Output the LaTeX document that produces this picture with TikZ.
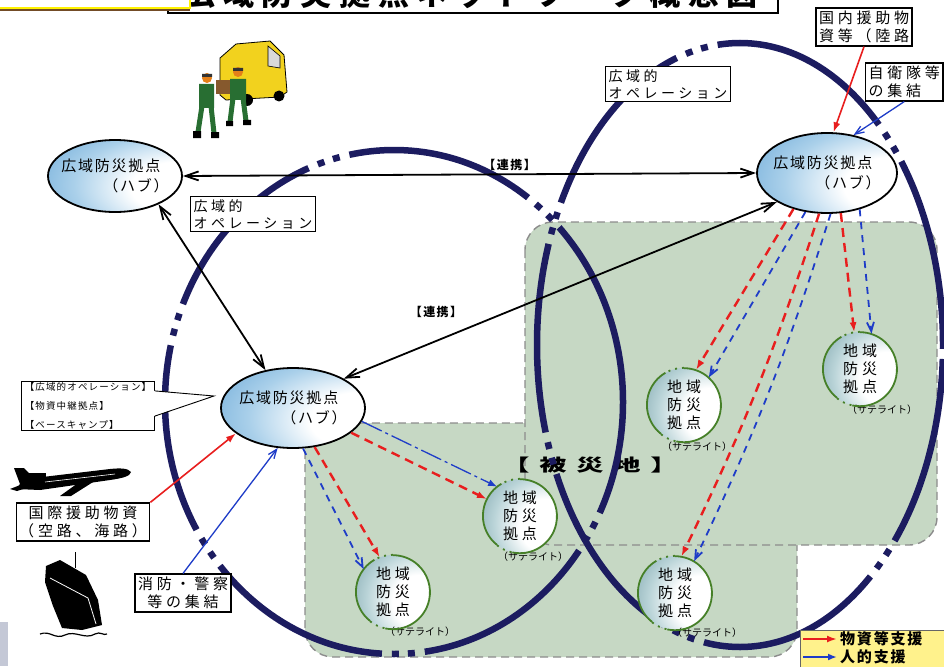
\documentclass[tikz,border=0pt]{standalone}
\usepackage{fontspec}
\newfontfamily\jp[LetterSpace=12]{Noto Sans CJK JP}
\newfontfamily\jpn{Noto Sans CJK JP}
\newfontfamily\jpwide[LetterSpace=25]{Noto Sans CJK JP}
\newfontfamily\jpbig[LetterSpace=36]{Noto Sans CJK JP}
\usetikzlibrary{arrows.meta, positioning, shapes.geometric, calc}

\definecolor{ringblue}{RGB}{28,28,96}
\definecolor{areagreen}{RGB}{198,216,196}
\definecolor{hubblue}{RGB}{80,152,208}
\definecolor{hubpale}{RGB}{170,208,234}
\definecolor{satteal}{RGB}{84,132,144}
\definecolor{satpale}{RGB}{186,212,216}
\definecolor{satring}{RGB}{70,128,40}
\definecolor{supplyred}{RGB}{232,30,30}
\definecolor{staffblue}{RGB}{30,60,200}
\definecolor{legendyellow}{RGB}{255,242,140}
\definecolor{vanyellow}{RGB}{242,210,30}
\definecolor{workgreen}{RGB}{40,110,50}
\definecolor{edgegray}{RGB}{196,200,214}

% soft fills for hubs and satellites
\pgfdeclareradialshading{hubglow}{\pgfpoint{30bp}{-10bp}}{color(0bp)=(white); color(18bp)=(white); color(34bp)=(hubpale); color(58bp)=(hubblue); color(90bp)=(hubblue)}
\pgfdeclareradialshading{satglow}{\pgfpoint{22bp}{-8bp}}{color(0bp)=(white); color(18bp)=(white); color(32bp)=(satpale); color(58bp)=(satteal); color(90bp)=(satteal)}

\begin{document}
\begin{tikzpicture}[x=1pt, y=-1pt,
    ring/.style={draw=ringblue, line width=6.5pt, dash pattern=on 190pt off 10pt on 7pt off 9pt on 7pt off 10pt},
    area/.style={fill=areagreen, draw=black!45, line width=1.4pt, dash pattern=on 8pt off 5pt, rounded corners=28pt},
    hub/.style={ellipse, draw=black, line width=1.8pt, shading=hubglow},
    hubtext/.style={font=\jp\fontsize{15}{20}\selectfont, align=left, inner sep=0pt},
    sat/.style={circle, minimum size=74pt, inner sep=0pt, shading=satglow,
        font=\jp\fontsize{15}{18}\selectfont, align=center},
    satnote/.style={font=\jpn\fontsize{10}{11}\selectfont, inner sep=0pt},
    satline/.style={draw=satring, line width=1.8pt},
    textbox/.style={draw=black, line width=1.3pt, fill=white, font=\jpwide\fontsize{14}{17}\selectfont, align=left, inner sep=3pt},
    link/.style={{Straight Barb[length=13pt,width=9pt]}-{Straight Barb[length=13pt,width=9pt]}, line width=1.8pt},
    linklabel/.style={font=\jp\bfseries\fontsize{12}{14}\selectfont, inner sep=1pt},
    supply/.style={-{Latex[length=10pt,width=7pt]}, draw=supplyred, line width=1.6pt},
    staff/.style={-{Straight Barb[length=9pt,width=7pt]}, draw=staffblue, line width=1.3pt},
    supplydash/.style={supply, line width=2.4pt, dash pattern=on 9pt off 6pt},
    staffdash/.style={staff, line width=1.8pt, dash pattern=on 7pt off 6pt}
]

\useasboundingbox (0,0) rectangle (944,666);
\clip (0,0) rectangle (944,666);
\fill[white] (0,0) rectangle (944,666);

% title strip
\draw[line width=1.6pt, fill=white] (168,-40) rectangle (778,13);
\node[font=\jpwide\bfseries\fontsize{31}{34}\selectfont] (title) at (471,-6) {広域防災拠点ネットワーク概念図};
\draw[draw=brown!60!black, line width=2pt] (0,10) -- (190,10);
\draw[draw=yellow, line width=2.2pt, fill=white] (-5,-10) rectangle (190,8);

% disaster area
\draw[area] (305,423) rectangle (797,657);
\draw[area] (525,222) rectangle (937,545);
\node[font=\jpbig\bfseries\fontsize{17}{20}\selectfont, xscale=1.6, transform shape] (area) at (590,465) {【被災地】};

% operation rings
\draw[ring] (394,402) ellipse [x radius=229pt, y radius=252pt];
\draw[ring] (740,345) ellipse [x radius=203pt, y radius=302pt];

% hubs
\node[hub, minimum width=134pt, minimum height=72pt, label={[hubtext]center:{広域防災拠点\\\hspace*{42pt}（ハブ）}}] (hubL) at (115,176) {};
\node[hub, minimum width=144pt, minimum height=80pt, label={[hubtext]center:{広域防災拠点\\\hspace*{42pt}（ハブ）}}] (hubM) at (293,408) {};
\node[hub, minimum width=140pt, minimum height=80pt, label={[hubtext]center:{広域防災拠点\\\hspace*{42pt}（ハブ）}}] (hubR) at (827,173) {};

% satellites
\node[sat, label={[satnote, xshift=27pt, yshift=-40pt]center:（サテライト）}] (satA) at (393,592) {地\hspace{4pt}域\\防\hspace{4pt}災\\拠\hspace{4pt}点};
\node[sat, label={[satnote, xshift=13pt, yshift=-41pt]center:（サテライト）}] (satB) at (520,516) {地\hspace{4pt}域\\防\hspace{4pt}災\\拠\hspace{4pt}点};
\node[sat, label={[satnote, xshift=22pt, yshift=-41pt]center:（サテライト）}] (satC) at (860,369) {地\hspace{4pt}域\\防\hspace{4pt}災\\拠\hspace{4pt}点};
\node[sat, label={[satnote, xshift=13pt, yshift=-42pt]center:（サテライト）}] (satD) at (684,405) {地\hspace{4pt}域\\防\hspace{4pt}災\\拠\hspace{4pt}点};
\node[sat, label={[satnote, xshift=32pt, yshift=-40pt]center:（サテライト）}] (satE) at (675,593) {地\hspace{4pt}域\\防\hspace{4pt}災\\拠\hspace{4pt}点};
\foreach \s in {satA,satB,satC,satD,satE}{
  \draw[satline] (\s.120) arc[start angle=120, end angle=232, radius=37pt];
  \draw[satline] (\s.258) arc[start angle=258, end angle=450, radius=37pt];
  \draw[satline, dash pattern=on 2pt off 5pt] (\s.90) arc[start angle=90, end angle=120, radius=37pt];
  \draw[satline, dash pattern=on 2pt off 5pt] (\s.232) arc[start angle=232, end angle=258, radius=37pt];
}

% boxes
\node[textbox] (opL) at (253,214) {広域的\\オペレーション};
\node[textbox] (opR) at (668,84) {広域的\\オペレーション};
\node[textbox, font=\jpwide\fontsize{15}{18}\selectfont] (domestic) at (864,27) {国内援助物\\資等（陸路};
\node[textbox, font=\jpwide\fontsize{15}{18}\selectfont, anchor=west] (sdf) at (865,82) {自衛隊等\\の集結};
\node[textbox, font=\jpwide\fontsize{15}{18}\selectfont, align=center] (intl) at (83,522) {国際援助物資\\（空路、海路）};
\node[textbox, font=\jpwide\fontsize{15}{18}\selectfont, align=center] (fire) at (183,593) {消防・警察\\等の集結};
\node[textbox, font=\jp\fontsize{9.5}{19}\selectfont, inner ysep=1pt] (callout) at (88,406) {【広域的オペレーション】\\【物資中継拠点】\\【ベースキャンプ】};
\coordinate (ctip) at (214,396);
\fill[white] ([xshift=-1pt, yshift=-10pt]callout.north east) -- (ctip) -- ([xshift=-1pt, yshift=15pt]callout.south east) -- cycle;
\draw[line width=0.9pt] ([yshift=-10pt]callout.north east) -- (ctip) -- ([yshift=15pt]callout.south east);

% cooperation between hubs
\draw[link] (hubL.east) -- (hubR.west) node[pos=0.57, above=2pt, linklabel] (coopA) {【連携】};
\draw[link] (hubM.30) -- (hubR.210);
\node[linklabel] (coopB) at (436,312) {【連携】};
\draw[link] (hubL.-33) -- (hubM.126);

% inflow to hubs
\draw[supply] (intl.north east) -- (hubM.204);
\draw[staff] (fire.north) -- (hubM.249);
\draw[supply] (domestic.south) -- (hubR.81);
\draw[staff] (sdf.south) -- (hubR.55);

% hub to satellites
\draw[staff, -{Latex[length=9pt,width=7pt]}, dash pattern=on 22pt off 4pt on 3pt off 4pt] (hubM.-11) -- (satB.128);
\draw[supplydash] (hubM.-23) -- (satB.153);
\draw[supplydash] (hubM.-61) -- (satA.111);
\draw[staffdash] (hubM.-76) -- (satA.142);
\draw[supplydash] (hubR.227) -- (satD.71);
\draw[staffdash] (hubR.241) -- (satD.48);
\draw[supplydash] (hubR.259) to[bend left=4] (satE.80);
\draw[staffdash] (hubR.275) to[bend left=4] (satE.59);
\draw[supplydash] (hubR.289) -- (satC.99);
\draw[staffdash] (hubR.312) -- (satC.72);

% truck and workers
\filldraw[fill=vanyellow, draw=black, line width=0.8pt] (220,58) -- (236,44) -- (270,41) -- (284,55) -- (287,92) -- (280,97) -- (226,100) -- (220,95) -- cycle;
\filldraw[fill=black!15, draw=black, line width=0.6pt] (268,46) -- (280,56) -- (280,68) -- (268,66) -- cycle;
\fill[black] (247,100) circle (6pt) (279,96) circle (5.5pt);
\fill[brown!70!black] (216,80) rectangle (234,94);
\fill[workgreen] (199,84) rectangle (214,108) (230,79) rectangle (246,100);
\draw[workgreen, line width=5pt] (202,106) -- (198,132) (211,106) -- (214,133) (233,98) -- (230,122) (243,98) -- (246,121);
\fill[black] (193,131) rectangle (201,138) (211,132) rectangle (219,138) (226,121) rectangle (233,126) (243,120) rectangle (251,125);
\fill[orange!60!brown] (207,78) circle (5pt) (238,72) circle (5pt);
\fill[black!80] (202,74) rectangle (212,77) (233,68) rectangle (243,71);

% airplane
\fill[black] (131,472) .. controls (128,468) and (120,468) .. (110,469) -- (34,478) -- (24,468) -- (14,468) -- (20,484) -- (16,489) -- (40,490) -- (110,480) .. controls (124,478) and (130,476) .. (131,472) -- cycle;
\fill[black] (85,478) -- (60,496) -- (71,496) -- (101,477) -- cycle;
\fill[black] (28,482) -- (10,489) -- (17,491) -- (36,485) -- cycle;
\fill[black] (28,473) rectangle (46,480);
\draw[white, line width=0.6pt] (45,482) -- (115,474);

% ship
\fill[black] (46,566) -- (60,560) -- (86,575) -- (98,600) -- (102,625) -- (82,630) -- (62,628) -- (53,606) -- (45,582) -- cycle;
\draw[black, line width=1pt] (75,552) -- (75,568);
\draw[white, line width=0.8pt] (50,578) -- (88,598) -- (96,624);
\draw[black, line width=1.2pt] (40,634) .. controls (50,630) and (55,640) .. (65,635) .. controls (75,630) and (85,640) .. (95,634) .. controls (100,631) and (104,636) .. (107,634);
\fill[edgegray] (0,622) rectangle (8,666);

% legend
\node[draw=black!60, fill=legendyellow, minimum width=150pt, minimum height=42pt, anchor=north west] (legend) at (800,630) {};
\coordinate (redA) at (803,639);
\coordinate (redB) at (837,639);
\coordinate (blueA) at (803,657);
\coordinate (blueB) at (837,657);
\draw[supply, line width=2.6pt] (redA) -- (redB);
\draw[staff, -{Latex[length=9pt,width=7pt]}, line width=2.6pt] (blueA) -- (blueB);
\node[font=\jp\bfseries\fontsize{15}{17}\selectfont, anchor=west, inner sep=0pt] (lsupply) at (840,639) {物資等支援};
\node[font=\jp\bfseries\fontsize{15}{17}\selectfont, anchor=west, inner sep=0pt] (lstaff) at (840,657) {人的支援};

\end{tikzpicture}
\end{document}
